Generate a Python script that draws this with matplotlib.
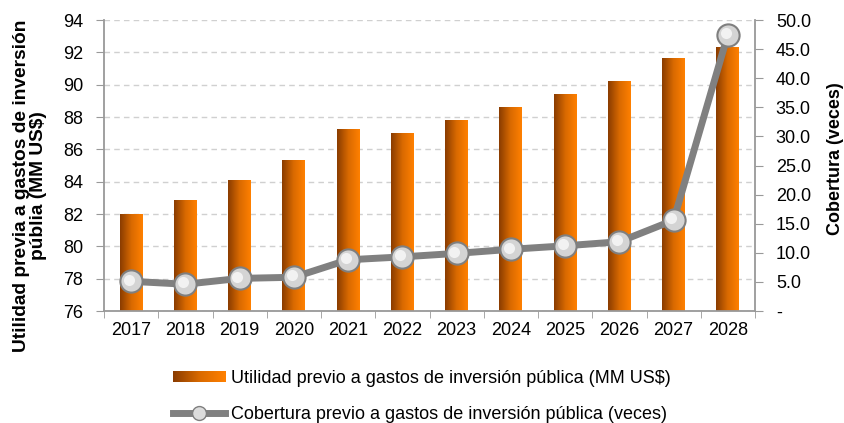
import matplotlib.pyplot as plt
import matplotlib.ticker as ticker
from matplotlib.colors import LinearSegmentedColormap
from matplotlib.lines import Line2D
from matplotlib.patches import Rectangle
from matplotlib.image import BboxImage
from matplotlib.transforms import Bbox, TransformedBbox
from matplotlib.legend_handler import HandlerBase
import numpy as np

plt.rcParams['font.family'] = ['Liberation Sans', 'DejaVu Sans']

years = ["2017", "2018", "2019", "2020", "2021", "2022",
         "2023", "2024", "2025", "2026", "2027", "2028"]
utilidad = [82.0, 82.85, 84.1, 85.3, 87.2, 87.0,
            87.8, 88.6, 89.4, 90.2, 91.6, 92.3]
cobertura = [5.1, 4.6, 5.6, 5.8, 8.8, 9.3,
             9.9, 10.6, 11.2, 11.9, 15.6, 47.5]

left_ticks = list(range(76, 95, 2))
right_ticks = [0, 5, 10, 15, 20, 25, 30, 35, 40, 45, 50]
right_labels = ["-"] + [f"{v:.1f}" for v in right_ticks[1:]]

bar_cmap = LinearSegmentedColormap.from_list(
    "bar", ["#8a3c00", "#d96a00", "#ff8000"])
grad = np.linspace(0, 1, 64).reshape(1, -1)


class GradientBarHandler(HandlerBase):
    def create_artists(self, legend, orig_handle, xdescent, ydescent,
                       width, height, fontsize, trans):
        bb = Bbox.from_bounds(-xdescent, -ydescent + height * 0.1,
                              width, height * 0.8)
        img = BboxImage(TransformedBbox(bb, trans), cmap=bar_cmap,
                        interpolation="bilinear")
        img.set_data(grad)
        return [img]


fig = plt.figure(figsize=(8.44, 4.23), dpi=100)
ax = fig.add_axes([104 / 844, 112 / 423, 651 / 844, 291 / 423])

x = np.arange(len(years))
w = 0.42
for xi, v in zip(x, utilidad):
    ax.imshow(grad, cmap=bar_cmap, aspect="auto", interpolation="bilinear",
              extent=[xi - w / 2, xi + w / 2, 76, v], zorder=2)

ax.set_xlim(-0.5, len(years) - 0.5)
ax.set_ylim(76, 94)
ax.set_yticks(left_ticks)
ax.yaxis.grid(True, color="#d0d0d0", linestyle=(0, (4, 3)), linewidth=1)
ax.set_axisbelow(True)
ax.set_xticks(x)
ax.set_xticklabels(years)
ax.set_xticks(np.arange(-0.5, len(years), 1), minor=True)
ax.tick_params(axis="x", which="major", length=0, pad=8, labelsize=13)
ax.tick_params(axis="x", which="minor", length=5, color="#999999")
ax.tick_params(axis="y", length=6, color="#999999", labelsize=13, pad=9)
for side in ["left", "bottom"]:
    ax.spines[side].set_color("#999999")
    ax.spines[side].set_linewidth(1.3)
ax.spines["top"].set_visible(False)
ax.spines["right"].set_visible(False)

fig.text(30 / 844, 1 - 186 / 423,
         "Utilidad previa a gastos de inversión\npúblia (MM US$)",
         rotation=90, ha="center", va="center", fontsize=13.8,
         fontweight="bold", linespacing=1.0)

ax2 = ax.twinx()
ax2.plot(x, cobertura, color="#808080", linewidth=5, zorder=3,
         marker="o", markersize=16, markerfacecolor="#d4d4d4",
         markeredgecolor="#7f7f7f", markeredgewidth=1.5,
         solid_capstyle="round")
ax2.plot(x - 0.04, np.array(cobertura) + 0.3, linestyle="none",
         marker="o", markersize=8, markerfacecolor="#f2f2f2",
         markeredgewidth=0, zorder=4)
ax2.set_ylim(0, 50)
ax2.yaxis.set_major_locator(ticker.FixedLocator(right_ticks))
ax2.yaxis.set_major_formatter(ticker.FixedFormatter(right_labels))
ax2.tick_params(axis="y", length=6, color="#999999", labelsize=13, pad=9)
ax2.spines["right"].set_color("#999999")
ax2.spines["right"].set_linewidth(1.3)
for side in ["top", "left", "bottom"]:
    ax2.spines[side].set_visible(False)

fig.text(835 / 844, 1 - 159 / 423, "Cobertura (veces)", rotation=90,
         ha="center", va="center", fontsize=13, fontweight="bold")

handles = [
    Rectangle((0, 0), 1, 1),
    Line2D([0], [0], color="#808080", linewidth=5, marker="o",
           markersize=10, markerfacecolor="#dcdcdc", markeredgecolor="#7f7f7f"),
]
labels = ["Utilidad previo a gastos de inversión pública (MM US$)",
          "Cobertura previo a gastos de inversión pública (veces)"]
fig.legend(handles, labels, loc="upper left",
           bbox_to_anchor=(173 / 844, 1 - 370 / 423),
           ncol=1, frameon=False, fontsize=13, handlelength=2.9,
           handletextpad=0.3, labelspacing=1.05, borderpad=0,
           borderaxespad=0,
           handler_map={Rectangle: GradientBarHandler()})

fig.savefig("out.png", dpi=100)
